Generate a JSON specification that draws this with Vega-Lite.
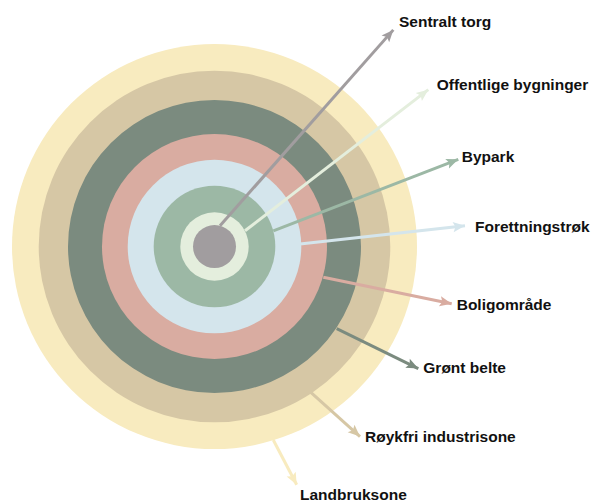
{
  "$schema": "https://vega.github.io/schema/vega-lite/v6.json",
  "autosize": {"type": "fit", "contains": "padding"},
  "width": 594,
  "height": 504,
  "padding": 0,
  "background": "white",
  "config": {"view": {"stroke": null}},
  "data": {
    "values": [
      {"zone": "Landbruksone", "r": 202.5, "x0": 58.8, "y0": -194.2, "x1": 82.2, "y1": -239.2, "lx": 85.5, "ly": -249.5},
      {"zone": "Røykfri industrisone", "r": 175.8, "x0": 95.5, "y0": -145.8, "x1": 145.5, "y1": -190.8, "lx": 150.5, "ly": -191.5},
      {"zone": "Grønt belte", "r": 146.5, "x0": 122.2, "y0": -82.5, "x1": 203.8, "y1": -122.5, "lx": 208.8, "ly": -121.5},
      {"zone": "Boligområde", "r": 112.5, "x0": 108.8, "y0": -30.8, "x1": 237.2, "y1": -57.5, "lx": 242.2, "ly": -59.2},
      {"zone": "Forettningstrøk", "r": 86.8, "x0": 85.5, "y0": 2.5, "x1": 250.5, "y1": 20.8, "lx": 260.5, "ly": 19.5},
      {"zone": "Bypark", "r": 60.8, "x0": 58.8, "y0": 15.8, "x1": 243.8, "y1": 87.5, "lx": 247.2, "ly": 89.5},
      {"zone": "Offentlige bygninger", "r": 34.2, "x0": 30.5, "y0": 15.8, "x1": 213.8, "y1": 157.5, "lx": 222.2, "ly": 162.5},
      {"zone": "Sentralt torg", "r": 21.5, "x0": 5.5, "y0": 20.8, "x1": 178.8, "y1": 217.5, "lx": 184.5, "ly": 225.5}
    ]
  },
  "encoding": {
    "color": {
      "field": "zone",
      "type": "nominal",
      "legend": null,
      "scale": {
        "domain": ["Landbruksone", "Røykfri industrisone", "Grønt belte", "Boligområde", "Forettningstrøk", "Bypark", "Offentlige bygninger", "Sentralt torg"],
        "range": ["#F8EBBF", "#D6C7A5", "#7B8B7F", "#D9ACA1", "#D4E5EC", "#9CB8A5", "#E4EEDD", "#A19D9F"]
      }
    }
  },
  "layer": [
    {
      "mark": {"type": "circle", "opacity": 1, "strokeWidth": 0},
      "encoding": {
        "x": {"datum": 0, "type": "quantitative", "axis": null, "scale": {"domain": [-214.5, 379.5], "nice": false, "zero": false}},
        "y": {"datum": 0, "type": "quantitative", "axis": null, "scale": {"domain": [-256.5, 247.5], "nice": false, "zero": false}},
        "size": {"field": "r", "type": "quantitative", "legend": null, "scale": {"type": "pow", "exponent": 2, "domain": [0, 200], "range": [0, 160000]}}
      }
    },
    {
      "mark": {"type": "rule", "strokeWidth": 3, "strokeCap": "butt"},
      "encoding": {
        "x": {"field": "x0", "type": "quantitative"},
        "y": {"field": "y0", "type": "quantitative"},
        "x2": {"field": "x1"},
        "y2": {"field": "y1"}
      }
    },
    {
      "transform": [{"calculate": "atan2(datum.x1 - datum.x0, datum.y1 - datum.y0) * 180 / PI", "as": "ang"}],
      "mark": {"type": "point", "filled": true, "opacity": 1, "strokeWidth": 0, "size": 144, "shape": "M0,0L-0.85,2L0,1.6L0.85,2Z"},
      "encoding": {
        "x": {"field": "x1", "type": "quantitative"},
        "y": {"field": "y1", "type": "quantitative"},
        "angle": {"field": "ang", "type": "quantitative", "scale": null}
      }
    },
    {
      "mark": {"type": "text", "align": "left", "baseline": "middle", "font": "Liberation Sans", "fontWeight": "bold", "fontSize": 15.5, "color": "#111111"},
      "encoding": {
        "x": {"field": "lx", "type": "quantitative"},
        "y": {"field": "ly", "type": "quantitative"},
        "text": {"field": "zone", "type": "nominal"},
        "color": {"value": "#111111"}
      }
    }
  ]
}
